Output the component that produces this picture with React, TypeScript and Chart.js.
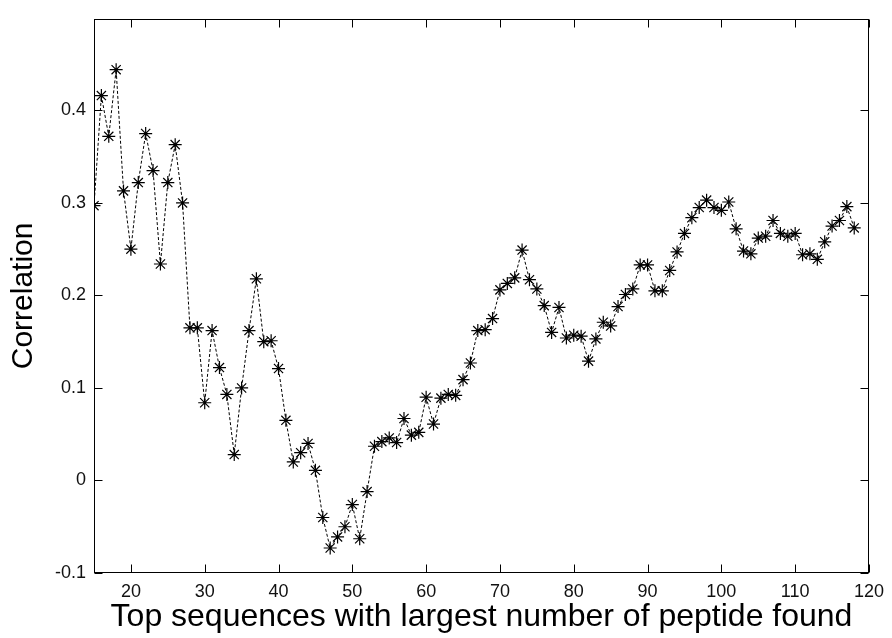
import React, { useEffect, useRef } from "react";
import { Chart, registerables } from "chart.js";

Chart.register(...registerables);

const xValues = [
  15, 16, 17, 18, 19, 20, 21, 22, 23, 24, 25, 26, 27, 28, 29, 30, 31, 32, 33, 34,
  35, 36, 37, 38, 39, 40, 41, 42, 43, 44, 45, 46, 47, 48, 49, 50, 51, 52, 53, 54,
  55, 56, 57, 58, 59, 60, 61, 62, 63, 64, 65, 66, 67, 68, 69, 70, 71, 72, 73, 74,
  75, 76, 77, 78, 79, 80, 81, 82, 83, 84, 85, 86, 87, 88, 89, 90, 91, 92, 93, 94,
  95, 96, 97, 98, 99, 100, 101, 102, 103, 104, 105, 106, 107, 108, 109, 110, 111, 112, 113, 114,
  115, 116, 117, 118,
];

const correlation = [
  0.297, 0.416, 0.372, 0.444, 0.313, 0.250, 0.322, 0.375, 0.335, 0.234, 0.322, 0.363, 0.300, 0.165, 0.165, 0.084, 0.162, 0.122, 0.093, 0.028,
  0.100, 0.162, 0.218, 0.150, 0.151, 0.121, 0.065, 0.020, 0.030, 0.040, 0.011, -0.040, -0.073, -0.061, -0.050, -0.026, -0.063, -0.012, 0.037, 0.042,
  0.046, 0.041, 0.067, 0.049, 0.052, 0.090, 0.061, 0.089, 0.093, 0.092, 0.109, 0.127, 0.162, 0.163, 0.175, 0.206, 0.213, 0.219, 0.249, 0.217,
  0.207, 0.189, 0.160, 0.187, 0.154, 0.157, 0.156, 0.129, 0.153, 0.171, 0.167, 0.188, 0.201, 0.207, 0.233, 0.233, 0.205, 0.205, 0.227, 0.247,
  0.267, 0.284, 0.295, 0.303, 0.295, 0.292, 0.301, 0.272, 0.248, 0.245, 0.262, 0.264, 0.281, 0.267, 0.264, 0.267, 0.244, 0.245, 0.239, 0.258,
  0.275, 0.281, 0.296, 0.273,
];

const xTicks = [20, 30, 40, 50, 60, 70, 80, 90, 100, 110, 120];
const yTicks = [-0.1, 0, 0.1, 0.2, 0.3, 0.4];
const xTitle = "Top sequences with largest number of peptide found";
const yTitle = "Correlation";

const FONT = "'Liberation Sans', Arial, Helvetica, sans-serif";

const framePlugin = {
  id: "matlabFrame",
  afterDraw(chart: any) {
    const { ctx, chartArea: a, scales } = chart;
    const L = Math.round(a.left) + 0.5;
    const R = Math.round(a.right) - 0.5;
    const T = Math.round(a.top) + 0.5;
    const B = Math.round(a.bottom) - 0.5;
    const len = 8;
    ctx.save();
    ctx.strokeStyle = "#000";
    ctx.lineWidth = 1;
    ctx.setLineDash([]);
    ctx.strokeRect(L, T, R - L, B - T);
    ctx.beginPath();
    for (const v of xTicks) {
      const px = Math.round(scales.x.getPixelForValue(v)) + 0.5;
      ctx.moveTo(px, B);
      ctx.lineTo(px, B - len);
      ctx.moveTo(px, T);
      ctx.lineTo(px, T + len);
    }
    for (const v of yTicks) {
      const py = Math.round(scales.y.getPixelForValue(v)) + 0.5;
      ctx.moveTo(L, py);
      ctx.lineTo(L + len, py);
      ctx.moveTo(R, py);
      ctx.lineTo(R - len, py);
    }
    ctx.stroke();
    ctx.restore();
  },
};

export default function App() {
  const canvasRef = useRef<HTMLCanvasElement | null>(null);

  useEffect(() => {
    if (!canvasRef.current) return;
    const points = xValues.map((x, i) => ({ x, y: correlation[i] }));
    const chart = new Chart(canvasRef.current, {
      type: "line",
      data: {
        datasets: [
          {
            data: points,
            borderColor: "#000",
            borderWidth: 1,
            borderDash: [3, 2],
            tension: 0,
            fill: false,
            pointStyle: "star",
            pointRadius: 6.5,
            pointBorderWidth: 1.2,
            pointBorderColor: "#000",
            pointBackgroundColor: "#000",
          },
        ],
      },
      options: {
        responsive: false,
        animation: false,
        devicePixelRatio: 1,
        layout: { padding: { top: 11, right: 18, left: 0, bottom: 0 } },
        plugins: {
          legend: { display: false },
          tooltip: { enabled: false },
        },
        scales: {
          x: {
            type: "linear",
            min: 15,
            max: 120,
            grid: { display: false, drawTicks: false },
            border: { display: false },
            afterBuildTicks: (scale: any) => {
              scale.ticks = xTicks.map((v) => ({ value: v }));
            },
            afterFit: (scale: any) => {
              scale.height = 65;
            },
            ticks: {
              padding: 8,
              color: "#111",
              maxRotation: 0,
              autoSkip: false,
              font: { family: FONT, size: 18 },
              callback: (v: any) => String(v),
            },
            title: {
              display: true,
              text: xTitle,
              color: "#000",
              font: { family: FONT, size: 32 },
              padding: { top: 0, bottom: 2 },
            },
          },
          y: {
            type: "linear",
            min: -0.1,
            max: 0.499,
            grid: { display: false, drawTicks: false },
            border: { display: false },
            afterBuildTicks: (scale: any) => {
              scale.ticks = yTicks.map((v) => ({ value: v }));
            },
            afterFit: (scale: any) => {
              scale.width = 94;
            },
            ticks: {
              padding: 8,
              color: "#111",
              autoSkip: false,
              font: { family: FONT, size: 18 },
              callback: (v: any) => {
                const n = Math.round(Number(v) * 10) / 10;
                return n === 0 ? "0" : String(n);
              },
            },
            title: {
              display: true,
              text: yTitle,
              color: "#000",
              font: { family: FONT, size: 30 },
              padding: { top: 6, bottom: 0 },
            },
          },
        },
      },
      plugins: [framePlugin],
    });
    return () => chart.destroy();
  }, []);

  return (
    <div style={{ position: "absolute", left: 0, top: 0, width: 892, height: 638, background: "#fff" }}>
      <canvas ref={canvasRef} width={892} height={638} />
    </div>
  );
}
